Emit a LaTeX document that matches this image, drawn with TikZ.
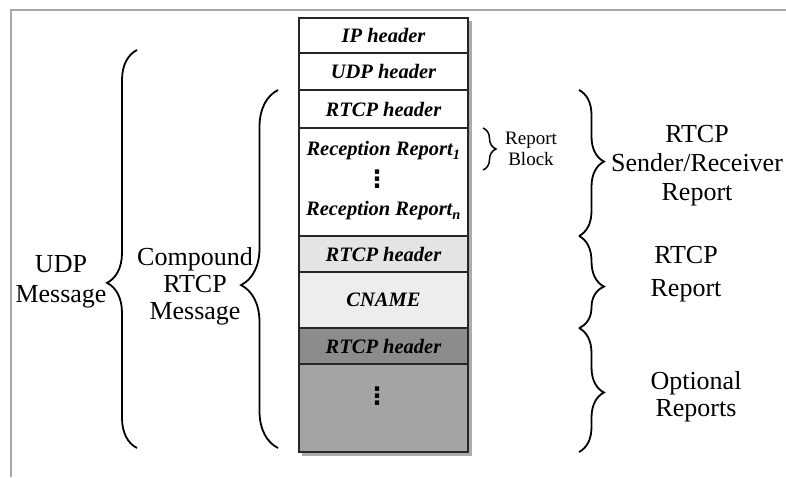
\documentclass[tikz,border=0pt]{standalone}
\usepackage{fontspec}
\setmainfont{Liberation Serif}
\newfontfamily\symfont{DejaVu Sans}
\usetikzlibrary{decorations.pathreplacing}
\definecolor{framegray}{HTML}{A8A8A8}
\definecolor{shadowgray}{HTML}{ABABAB}
\definecolor{hdrlight}{HTML}{E4E4E4}
\definecolor{cnamefill}{HTML}{EDEDED}
\definecolor{hdrdark}{HTML}{8C8C8C}
\definecolor{optfill}{HTML}{A4A4A4}
\begin{document}
\begin{tikzpicture}[x=1pt,y=-1pt,
  cell/.style={draw=black!85, line width=1.6pt, minimum width=169pt, inner sep=0pt,
    font=\fontsize{20.5}{22}\selectfont\bfseries\itshape},
  celltext/.style={inner sep=0pt, font=\fontsize{20.5}{22}\selectfont\bfseries\itshape},
  dotstext/.style={inner sep=0pt, font=\fontsize{24}{24}\selectfont\symfont\bfseries},
  label/.style={align=center, inner sep=0pt},
  bracedeco/.style={decorate, line width=1.8pt,
    decoration={brace, amplitude=#1}}]
\useasboundingbox (0,0) rectangle (786,477);

% frame lines
\draw[framegray, line width=1.6pt] (11,477) -- (11,10) -- (786,10);

% drop shadow of the packet stack
\fill[shadowgray] (302,21) rectangle (472,456);

% packet stack
\node[cell, fill=white, minimum height=35pt] (ip)    at (383.5,35.5) {IP header};
\node[cell, fill=white, minimum height=37pt] (udp)   at (383.5,71.5) {UDP header};
\node[cell, fill=white, minimum height=38pt] (rh1)   at (383.5,109)  {RTCP header};
\node[cell, fill=white, minimum height=108pt] (rr)   at (383.5,182)  {};
\node[celltext] (rr1) at (383.5,151) {Reception Report\textsubscript{1}};
\node[dotstext] (rrdots) at (377,179) {⋮};
\node[celltext] (rrn) at (383.5,211) {Reception Report\textsubscript{n}};
\node[cell, fill=hdrlight, minimum height=36pt] (rh2)   at (383.5,254) {RTCP header};
\node[cell, fill=cnamefill, minimum height=56pt] (cname) at (383.5,300) {CNAME};
\node[cell, fill=hdrdark, minimum height=36pt] (rh3)   at (383.5,346) {RTCP header};
\node[cell, fill=optfill, minimum height=88pt] (opt)   at (383.5,408) {};
\node[dotstext] (optdots) at (377,396) {⋮};

% brace end points
\coordinate (udptop) at (137,50);
\coordinate (udpbot) at (137,448);
\coordinate (cmptop) at (278,90);
\coordinate (cmpbot) at (278,448);
\coordinate (rbtop)  at (483,128);
\coordinate (rbbot)  at (483,170);
\coordinate (r1top)  at (579,90);
\coordinate (r1bot)  at (579,236);
\coordinate (r2bot)  at (579,328);
\coordinate (r3bot)  at (579,452);

% left braces
\draw[bracedeco=30pt, decoration={aspect=0.415}] (udpbot) -- (udptop);
\draw[bracedeco=37pt, decoration={aspect=0.455}] (cmpbot) -- (cmptop);

% right braces
\draw[bracedeco=13pt, line width=1.5pt] (rbtop) -- (rbbot);
\draw[bracedeco=25pt, decoration={aspect=0.49}] (r1top) -- (r1bot);
\draw[bracedeco=25pt, decoration={aspect=0.55}] (r1bot) -- (r2bot);
\draw[bracedeco=25pt, decoration={aspect=0.52}] (r2bot) -- (r3bot);

% labels
\node[label, font=\fontsize{26}{30}\selectfont] (udpmsg) at (61,282) {UDP\\Message};
\node[label, font=\fontsize{26}{27}\selectfont] (cmpmsg) at (195,286) {Compound\\RTCP\\Message};
\node[label, font=\fontsize{19}{21}\selectfont] (rblock) at (531,149) {Report\\Block};
\node[label, font=\fontsize{26}{29}\selectfont] (srrep) at (697,166) {RTCP\\Sender/Receiver\\Report};
\node[label, font=\fontsize{26}{33}\selectfont] (rtcprep) at (686,274) {RTCP\\Report};
\node[label, font=\fontsize{26}{27}\selectfont] (optrep) at (696,397) {Optional\\Reports};
\end{tikzpicture}
\end{document}
